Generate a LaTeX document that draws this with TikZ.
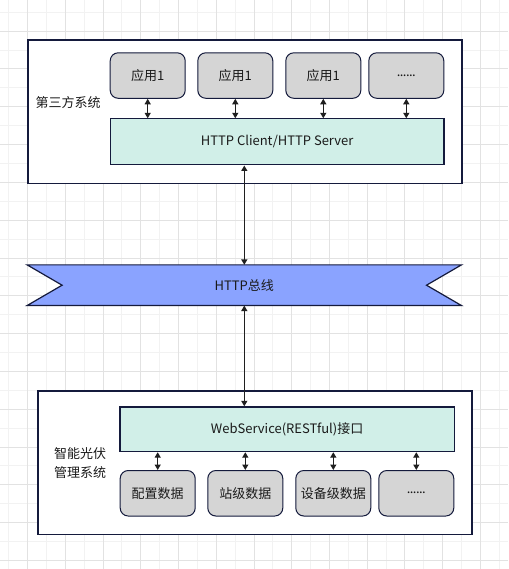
\documentclass[tikz,border=0pt]{standalone}
\usepackage{fontspec}
\setmainfont{Noto Sans CJK SC}
\usetikzlibrary{arrows.meta}
\definecolor{strokec}{HTML}{141A3C}
\definecolor{grayfill}{HTML}{D5D5D5}
\definecolor{cyanfill}{HTML}{D1EFE8}
\definecolor{busfill}{HTML}{8AA3FF}
\definecolor{gridlight}{HTML}{F2F2F2}
\definecolor{griddark}{HTML}{E2E2E2}
\definecolor{txt}{HTML}{1A1A1A}
\newcommand{\dotsix}{\addfontfeatures{LetterSpace=-4}......}
\tikzset{
  outerbox/.style={draw=strokec, line width=1.3pt, fill=white, anchor=north west, minimum width=434pt, minimum height=143.4pt, inner sep=0pt},
  appbox/.style={draw=strokec, line width=1pt, fill=grayfill, rounded corners=8pt, anchor=north west, minimum width=75pt, minimum height=45.5pt, inner sep=0pt, font=\fontsize{13}{15}\selectfont, text=txt},
  ifbox/.style={draw=strokec, line width=1.2pt, fill=cyanfill, anchor=north west, minimum height=45pt, inner sep=0pt, font=\fontsize{13}{15}\selectfont, text=txt},
  lbl/.style={font=\fontsize{13}{19.4}\selectfont, text=txt, align=center, inner sep=0pt},
  link/.style={draw=black!88, line width=1.3pt, {Triangle[length=5.5pt,width=6pt]}-{Triangle[length=5.5pt,width=6pt]}}
}
\begin{document}
\begin{tikzpicture}[x=1pt,y=-1pt]
\useasboundingbox (0,0) rectangle (508,569);
\fill[white] (0,0) rectangle (508,569);
% grid
\foreach \k in {0,2,...,26} {\draw[gridlight, line width=1pt] (8.7+18.87*\k,0) -- (8.7+18.87*\k,569);}
\foreach \k in {0,2,...,28} {\draw[gridlight, line width=1pt] (0,12.3+18.9*\k) -- (508,12.3+18.9*\k);}
\foreach \k in {1,3,...,25} {\draw[griddark, line width=1pt] (8.7+18.87*\k,0) -- (8.7+18.87*\k,569);}
\foreach \k in {1,3,...,29} {\draw[griddark, line width=1pt] (0,12.3+18.9*\k) -- (508,12.3+18.9*\k);}

% top system
\node[outerbox] (topsys) at (27.3,39.3) {};
\node[lbl] (toplbl) at (68,102.7) {第三方系统};
\node[appbox] (a1) at (109.7,52.3) {应用1};
\node[appbox] (a2) at (197.3,52.3) {应用1};
\node[appbox] (a3) at (285.3,52.3) {应用1};
\node[appbox] (a4) at (368.3,52.3) {\dotsix};
\node[ifbox, minimum width=333.6pt, minimum height=46pt] (cs) at (109.7,118.3) {HTTP Client/HTTP Server};
\foreach \n in {a1,a2,a3,a4} {\draw[link] (\n.south) -- (\n.south |- cs.north);}

% bus
\node[minimum width=434pt, minimum height=40.3pt, inner sep=0pt] (bus) at (244.3,285.2) {};
\draw[strokec, line width=1.2pt, fill=busfill]
  (bus.north west) -- (bus.north east) -- ([xshift=-35pt]bus.east) -- (bus.south east)
  -- (bus.south west) -- ([xshift=35pt]bus.west) -- cycle;
\node[lbl] (buslbl) at (bus.center) {HTTP总线};

% bottom system
\node[outerbox] (botsys) at (37.3,390.3) {};
\node[lbl] (botlbl) at (80,463) {智能光伏\\管理系统};
\node[ifbox, minimum width=334.4pt, minimum height=44.7pt] (ws) at (119.3,406.3) {WebService(RESTful)接口};
\node[appbox] (d1) at (119.7,470) {配置数据};
\node[appbox] (d2) at (207.3,470) {站级数据};
\node[appbox] (d3) at (295.3,470) {设备级数据};
\node[appbox] (d4) at (378.3,470) {\dotsix};
\foreach \n in {d1,d2,d3,d4} {\draw[link] (\n.north) -- (\n.north |- ws.south);}

% vertical links
\draw[link] (bus.north) -- (bus.north |- cs.south);
\draw[link] (bus.south) -- (bus.south |- ws.north);
\end{tikzpicture}
\end{document}
